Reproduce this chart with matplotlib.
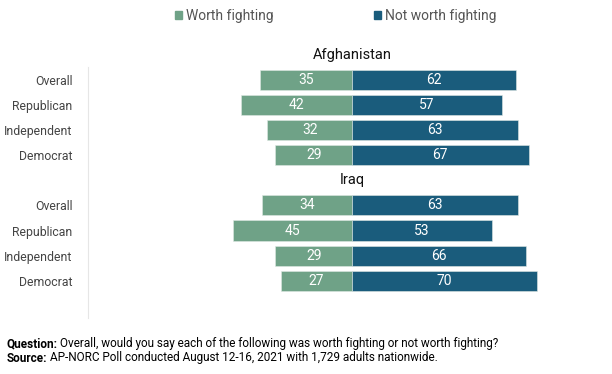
import matplotlib

matplotlib.use("Agg")
import matplotlib.pyplot as plt
from matplotlib.patches import Patch

plt.rcParams["font.family"] = ["Roboto", "DejaVu Sans"]

groups = ["Afghanistan", "Iraq"]
parties = ["Overall", "Republican", "Independent", "Democrat"]
worth = {"Afghanistan": [35, 42, 32, 29], "Iraq": [34, 45, 29, 27]}
not_worth = {"Afghanistan": [62, 57, 63, 67], "Iraq": [63, 53, 66, 70]}

GREEN = "#6fa287"
BLUE = "#1a5c7c"
W, H = 612, 374

fig = plt.figure(figsize=(W / 100, H / 100), dpi=100)
ax = fig.add_axes([88 / W, 1 - 318 / H, 512 / W, (318 - 42) / H])

ypos, ylabels = [], []
for g_i, grp in enumerate(groups):
    start = g_i * 5
    ax.text(0, start - 1, grp, ha="center", va="center", fontsize=10.5, color="#111111")
    for p_i, party in enumerate(parties):
        y = start + p_i
        ypos.append(y)
        ylabels.append(party)
        w = worth[grp][p_i]
        n = not_worth[grp][p_i]
        ax.barh(y, -w, height=0.8, color=GREEN, edgecolor="#dfe8e3", linewidth=0.4)
        ax.barh(y, n, height=0.8, color=BLUE, edgecolor="#dfe8e3", linewidth=0.4)
        ax.text(-w / 2, y, str(w), ha="center", va="center", color="white", fontsize=10)
        ax.text(n / 2, y, str(n), ha="center", va="center", color="white", fontsize=10)

ax.set_xlim(-100, 94)
ax.set_ylim(9.48, -1.5)
ax.set_yticks(ypos)
ax.set_yticklabels(ylabels, fontsize=8.8, color="#444444")
ax.tick_params(axis="y", length=0, pad=11)
ax.set_xticks([])
for s in ["top", "right", "bottom"]:
    ax.spines[s].set_visible(False)
ax.spines["left"].set_color("#e6e6e6")
ax.spines["left"].set_bounds(9.48, -0.52)

handles = [Patch(color=GREEN, label="Worth fighting"), Patch(color=BLUE, label="Not worth fighting")]
fig.legend(handles=handles, loc="center", bbox_to_anchor=(335.5 / W, 1 - 16 / H), ncol=2,
           frameon=False, fontsize=10, handlelength=0.5, handleheight=0.5,
           handletextpad=0.3, columnspacing=7.2, labelcolor="#555555",
           borderpad=0, borderaxespad=0)

# footer: bold lead-in, then the rest placed right after it
foot = [
    ("Question:", "Overall, would you say each of the following was worth fighting or not worth fighting?", 344),
    ("Source:", "AP-NORC Poll conducted August 12-16, 2021 with 1,729 adults nationwide.", 358),
]
for lead, rest, ypx in foot:
    t = fig.text(7 / W, 1 - ypx / H, lead, fontsize=8.5, fontweight="bold", va="center")
    ax.annotate(rest, xy=(1, 0.5), xycoords=t, xytext=(1.8, 0), textcoords="offset points",
                fontsize=8.5, va="center", annotation_clip=False)

fig.savefig("out.png", dpi=100)
